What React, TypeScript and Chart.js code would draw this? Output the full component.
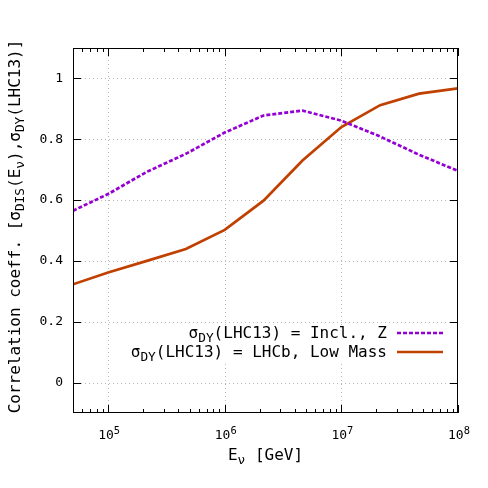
import React, { useEffect, useRef } from 'react';
import { Chart, registerables } from 'chart.js';

Chart.register(...registerables);

// ---- data ----
const energies = [5e4, 1e5, 2.15e5, 4.64e5, 1e6, 2.15e6, 4.64e6, 1e7, 2.15e7, 4.64e7, 1e8];
const inclZ = [0.565, 0.62, 0.693, 0.752, 0.822, 0.878, 0.894, 0.861, 0.809, 0.749, 0.696];
const lhcbLowMass = [0.323, 0.362, 0.4, 0.439, 0.502, 0.598, 0.73, 0.84, 0.912, 0.95, 0.967];

const xTickValues = [1e5, 1e6, 1e7, 1e8];
const xTickExponents = ['5', '6', '7', '8'];
const xMinorDecades = [1e4, 1e5, 1e6, 1e7];
const yTickValues = [0, 0.2, 0.4, 0.6, 0.8, 1];
const yTickLabels = ['0', '0.2', '0.4', '0.6', '0.8', '1'];

type Part = { t: string; sub?: boolean; sup?: boolean };
const legendInclZ: Part[] = [{ t: 'σ' }, { t: 'DY', sub: true }, { t: '(LHC13) = Incl., Z' }];
const legendLowMass: Part[] = [{ t: 'σ' }, { t: 'DY', sub: true }, { t: '(LHC13) = LHCb, Low Mass' }];
const yTitle: Part[] = [
  { t: 'Correlation coeff. [σ' },
  { t: 'DIS', sub: true },
  { t: '(E' },
  { t: 'ν', sub: true },
  { t: '),σ' },
  { t: 'DY', sub: true },
  { t: '(LHC13)]' },
];
const xTitle: Part[] = [{ t: 'E' }, { t: 'ν', sub: true }, { t: ' [GeV]' }];

const PURPLE = '#9400d3';
const ORANGE = '#c04000';
const FONT = '"DejaVu Sans Mono", monospace';
const TITLE_SIZE = 16;
const TICK_SIZE = 13;

function drawParts(
  ctx: CanvasRenderingContext2D,
  parts: Part[],
  x: number,
  y: number,
  size: number,
  align: 'left' | 'center' | 'right'
) {
  ctx.textAlign = 'left';
  ctx.textBaseline = 'alphabetic';
  const widths = parts.map((p) => {
    ctx.font = `${p.sub || p.sup ? size * 0.8 : size}px ${FONT}`;
    return ctx.measureText(p.t).width;
  });
  const total = widths.reduce((a, b) => a + b, 0);
  let cx = align === 'left' ? x : align === 'center' ? x - total / 2 : x - total;
  parts.forEach((p, i) => {
    ctx.font = `${p.sub || p.sup ? size * 0.8 : size}px ${FONT}`;
    const dy = p.sub ? size * 0.25 : p.sup ? -size * 0.42 : 0;
    ctx.fillText(p.t, cx, y + dy);
    cx += widths[i];
  });
}

const decorPlugin = {
  id: 'gnuplotDecor',
  beforeDatasetsDraw(chart: any) {
    const { ctx, chartArea: a, scales } = chart;
    const xs = scales.x;
    const ys = scales.y;
    ctx.save();
    ctx.strokeStyle = '#b8b8b8';
    ctx.lineWidth = 1;
    ctx.setLineDash([1, 3]);
    xTickValues.forEach((v) => {
      const px = Math.round(xs.getPixelForValue(v)) + 0.5;
      if (px > a.left + 1 && px < a.right - 1) {
        ctx.beginPath();
        ctx.moveTo(px, a.bottom);
        ctx.lineTo(px, a.top);
        ctx.stroke();
      }
    });
    yTickValues.forEach((v) => {
      const py = Math.round(ys.getPixelForValue(v)) + 0.5;
      ctx.beginPath();
      ctx.moveTo(a.left, py);
      ctx.lineTo(a.right, py);
      ctx.stroke();
    });
    ctx.restore();
  },
  afterDatasetsDraw(chart: any) {
    const { ctx, chartArea: a, scales } = chart;
    const xs = scales.x;
    const ys = scales.y;
    ctx.save();
    // opaque key background
    ctx.fillStyle = '#ffffff';
    ctx.fillRect(124, 325, 328, 37);

    // frame
    ctx.strokeStyle = '#000000';
    ctx.lineWidth = 1;
    ctx.setLineDash([]);
    ctx.strokeRect(Math.round(a.left) + 0.5, Math.round(a.top) + 0.5, Math.round(a.right - a.left) - 1, Math.round(a.bottom - a.top) - 1);

    // x ticks (major + minor), bottom and top, inward
    const tick = (px: number, len: number) => {
      const x = Math.round(px) + 0.5;
      ctx.beginPath();
      ctx.moveTo(x, a.bottom);
      ctx.lineTo(x, a.bottom - len);
      ctx.moveTo(x, a.top);
      ctx.lineTo(x, a.top + len);
      ctx.stroke();
    };
    xMinorDecades.forEach((d) => {
      for (let m = 2; m <= 9; m++) {
        const v = d * m;
        if (v >= xs.min && v <= xs.max) tick(xs.getPixelForValue(v), 4);
      }
    });
    xTickValues.forEach((v) => tick(xs.getPixelForValue(v), 8));

    // y ticks
    yTickValues.forEach((v) => {
      const y = Math.round(ys.getPixelForValue(v)) + 0.5;
      ctx.beginPath();
      ctx.moveTo(a.left, y);
      ctx.lineTo(a.left + 8, y);
      ctx.moveTo(a.right, y);
      ctx.lineTo(a.right - 8, y);
      ctx.stroke();
    });

    // x tick labels with superscripts
    ctx.fillStyle = '#000000';
    xTickValues.forEach((v, i) => {
      const px = xs.getPixelForValue(v);
      drawParts(ctx, [{ t: '10' }, { t: xTickExponents[i], sup: true }], px + 1, a.bottom + 26, TICK_SIZE, 'center');
    });

    // axis titles
    drawParts(ctx, xTitle, (a.left + a.right) / 2, 460, TITLE_SIZE, 'center');
    ctx.save();
    ctx.translate(20, (a.top + a.bottom) / 2 - 4);
    ctx.rotate(-Math.PI / 2);
    drawParts(ctx, yTitle, 0, 0, TITLE_SIZE, 'center');
    ctx.restore();

    // legend
    const rows = [
      { parts: legendInclZ, color: PURPLE, dash: [4, 2], y: 333 },
      { parts: legendLowMass, color: ORANGE, dash: [], y: 352 },
    ];
    rows.forEach((r) => {
      ctx.fillStyle = '#000000';
      drawParts(ctx, r.parts, 387, r.y + 5, TITLE_SIZE, 'right');
      ctx.strokeStyle = r.color;
      ctx.lineWidth = 2.7;
      ctx.setLineDash(r.dash);
      ctx.beginPath();
      ctx.moveTo(397, r.y);
      ctx.lineTo(443, r.y);
      ctx.stroke();
    });
    ctx.restore();
  },
};

export default function App() {
  const ref = useRef<HTMLCanvasElement | null>(null);
  useEffect(() => {
    if (!ref.current) return;
    const chart = new Chart(ref.current, {
      type: 'line',
      data: {
        datasets: [
          {
            label: 'Incl., Z',
            data: energies.map((e, i) => ({ x: e, y: inclZ[i] })),
            borderColor: PURPLE,
            borderWidth: 2.7,
            borderDash: [4, 2],
            pointRadius: 0,
            fill: false,
            tension: 0,
          },
          {
            label: 'LHCb, Low Mass',
            data: energies.map((e, i) => ({ x: e, y: lhcbLowMass[i] })),
            borderColor: ORANGE,
            borderWidth: 2.7,
            pointRadius: 0,
            fill: false,
            tension: 0,
          },
        ],
      },
      options: {
        animation: false,
        responsive: false,
        devicePixelRatio: 1,
        layout: { padding: { top: 48, right: 30, left: 0, bottom: 0 } },
        plugins: { legend: { display: false }, tooltip: { enabled: false }, title: { display: false } },
        scales: {
          x: {
            type: 'logarithmic',
            min: 5e4,
            max: 1e8,
            grid: { display: false, drawTicks: false },
            border: { display: false },
            ticks: { display: false },
            afterFit: (s: any) => {
              s.height = 75;
            },
          },
          y: {
            type: 'linear',
            min: -0.1,
            max: 1.1,
            grid: { display: false, drawTicks: false },
            border: { display: false },
            afterBuildTicks: (s: any) => {
              s.ticks = yTickValues.map((v) => ({ value: v }));
            },
            ticks: {
              padding: 10,
              color: '#000000',
              font: { family: FONT, size: TICK_SIZE },
              callback: (v: any) => {
                const i = yTickValues.findIndex((t) => Math.abs(t - Number(v)) < 1e-9);
                return i >= 0 ? yTickLabels[i] : '';
              },
            },
            afterFit: (s: any) => {
              s.width = 73;
            },
          },
        },
      },
      plugins: [decorPlugin],
    });
    return () => chart.destroy();
  }, []);
  return (
    <div style={{ position: 'fixed', left: 0, top: 0, width: 488, height: 488, background: '#fff' }}>
      <canvas ref={ref} width={488} height={488} style={{ width: 488, height: 488 }} />
    </div>
  );
}
